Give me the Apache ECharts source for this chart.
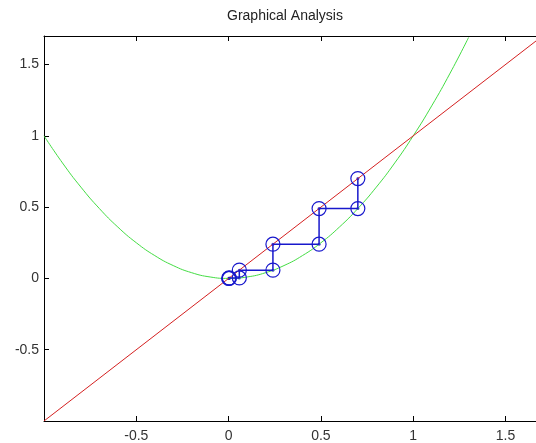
<!DOCTYPE html>
<html>
<head>
<meta charset="utf-8">
<script src="https://cdn.jsdelivr.net/npm/echarts@6/dist/echarts.min.js"></script>
<style>
  html, body { margin: 0; padding: 0; background: #fff; }
  #chart { width: 536px; height: 443px; }
</style>
</head>
<body>
<div id="chart"></div>
<script>
// green curve f(x)
const curveX = [-1, -0.9, -0.8, -0.7, -0.6, -0.5, -0.4, -0.3, -0.2, -0.1, 0, 0.1, 0.2, 0.3, 0.4, 0.5, 0.6, 0.7, 0.8, 0.9, 1, 1.1, 1.2, 1.3];
const curveY = [1, 0.81, 0.64, 0.49, 0.36, 0.25, 0.16, 0.09, 0.04, 0.01, 0, 0.01, 0.04, 0.09, 0.16, 0.25, 0.36, 0.49, 0.64, 0.81, 1, 1.21, 1.44, 1.69];

// red diagonal y = x
const diagX = [-1, 1.7];
const diagY = [-1, 1.7];

// blue cobweb path
const webX = [0.7, 0.7, 0.49, 0.49, 0.24, 0.24, 0.058, 0.058, 0.0034, 0.0034, 0];
const webY = [0.7, 0.49, 0.49, 0.24, 0.24, 0.058, 0.058, 0.0034, 0.0034, 0, 0];

const titleText = 'Graphical Analysis';

function pairs(xs, ys) {
    return xs.map(function (x, i) { return [x, ys[i]]; });
}

let chart = echarts.init(document.getElementById('chart'), null, { renderer: 'canvas' });

const labelStyle = {
    color: '#333',
    fontSize: 14,
    fontFamily: 'Liberation Sans, Arial, sans-serif'
};

// the picture is cropped on the right, so the x range stops short of 1.7
chart.setOption({
    animation: false,
    backgroundColor: '#fff',
    title: {
        text: titleText,
        left: 285,
        top: 9,
        padding: 0,
        textAlign: 'center',
        textStyle: {
            color: '#222',
            fontSize: 14,
            fontWeight: 'normal',
            fontFamily: 'Liberation Sans, Arial, sans-serif'
        }
    },
    grid: { left: 44, top: 36, right: 0, height: 387 },
    xAxis: [{
        type: 'value',
        min: -1,
        max: 1.665,
        interval: 0.5,
        position: 'bottom',
        axisLine: { onZero: false, lineStyle: { color: '#000', width: 1 } },
        axisTick: { inside: true, length: 5, lineStyle: { color: '#000' } },
        axisLabel: Object.assign({ margin: 8, showMinLabel: false, showMaxLabel: false }, labelStyle),
        splitLine: { show: false }
    }, {
        type: 'value',
        min: -1,
        max: 1.665,
        interval: 0.5,
        position: 'top',
        axisLine: { onZero: false, lineStyle: { color: '#000', width: 1 } },
        axisTick: { inside: true, length: 5, lineStyle: { color: '#000' } },
        axisLabel: { show: false },
        splitLine: { show: false }
    }],
    yAxis: {
        type: 'value',
        min: -1,
        max: 1.7,
        interval: 0.5,
        axisLine: { show: true, onZero: false, lineStyle: { color: '#000', width: 1 } },
        axisTick: { show: true, inside: true, length: 5, lineStyle: { color: '#000' } },
        axisLabel: Object.assign({ margin: 5, showMinLabel: false, showMaxLabel: false }, labelStyle),
        splitLine: { show: false }
    },
    series: [{
        name: 'curve',
        type: 'line',
        data: pairs(curveX, curveY),
        smooth: true,
        showSymbol: false,
        lineStyle: { color: '#44dd44', width: 1 }
    }, {
        name: 'diagonal',
        type: 'line',
        data: pairs(diagX, diagY),
        showSymbol: false,
        lineStyle: { color: '#d42020', width: 1 }
    }, {
        name: 'web',
        type: 'line',
        data: pairs(webX, webY),
        symbol: 'circle',
        symbolSize: 14,
        showAllSymbol: true,
        itemStyle: { color: 'rgba(0,0,0,0)', borderColor: '#1818cc', borderWidth: 1.2 },
        lineStyle: { color: '#1818cc', width: 1.5 }
    }, {
        name: 'dots',
        type: 'scatter',
        data: pairs(webX, webY),
        symbolSize: 3,
        itemStyle: { color: '#1818cc' }
    }]
});
</script>
</body>
</html>
